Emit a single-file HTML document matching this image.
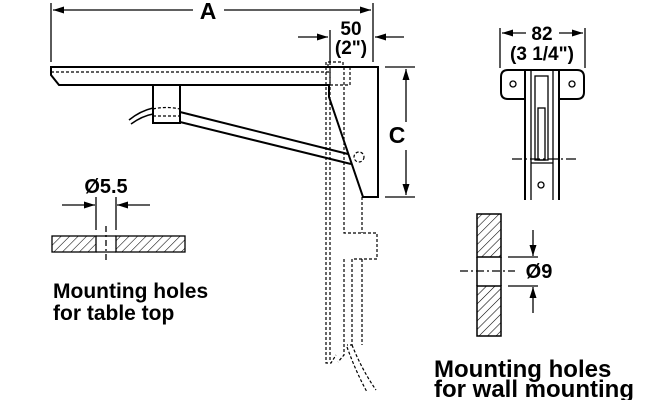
<!DOCTYPE html>
<html><head><meta charset="utf-8"><style>
html,body{margin:0;padding:0;background:#fff;}
svg{display:block;}
text{font-family:"Liberation Sans",Arial,sans-serif;font-weight:bold;fill:#000;}
</style></head><body>
<svg width="659" height="400" viewBox="0 0 659 400" xmlns="http://www.w3.org/2000/svg">
<defs>
<pattern id="h" width="6" height="6" patternUnits="userSpaceOnUse" patternTransform="rotate(45)">
<line x1="0" y1="0" x2="0" y2="6" stroke="#000" stroke-width="1.1"/>
</pattern>
<marker id="ar" markerWidth="11" markerHeight="7" refX="11" refY="3.5" orient="auto" markerUnits="userSpaceOnUse">
<path d="M0,0 L11,3.5 L0,7 z" fill="#000"/>
</marker>
</defs>
<g stroke="#000" fill="none" stroke-width="1.3">
<line x1="51" y1="3" x2="51" y2="62"/>
<line x1="373" y1="3" x2="373" y2="62"/>
<line x1="193" y1="10" x2="53" y2="10" marker-end="url(#ar)"/>
<line x1="224" y1="10" x2="371" y2="10" marker-end="url(#ar)"/>
<line x1="330" y1="30" x2="330" y2="62"/>
<line x1="298" y1="37" x2="328" y2="37" marker-end="url(#ar)"/>
<line x1="404" y1="37" x2="375" y2="37" marker-end="url(#ar)"/>
<line x1="385" y1="67" x2="415" y2="67"/>
<line x1="385" y1="197" x2="415" y2="197"/>
<line x1="406" y1="122" x2="406" y2="69" marker-end="url(#ar)"/>
<line x1="406" y1="150" x2="406" y2="195" marker-end="url(#ar)"/>
</g>
<g stroke="#000" fill="none" stroke-width="2">
<path d="M51,67 L378,67 L378,197 L363,197 L329,97 L329,85 L59,85 L51,75 Z"/>
<rect x="153" y="85" width="27" height="38"/>
<path d="M180,112 L348,154 M180,122 L351,164"/>
<path d="M129,120 Q140,111 153,108 M131,124 Q142,116 153,114" stroke-width="1.5"/>
</g>
<g stroke="#000" fill="none" stroke-width="1.2" stroke-dasharray="3,2">
<line x1="51" y1="72" x2="329" y2="72"/>
<path d="M153,109 Q166,106 180,109 M153,116 L180,116"/>
<circle cx="359" cy="157" r="5"/>
<path d="M328,67 L328,62 L343,62 L343,67"/>
<rect x="330" y="67" width="20" height="18"/>
<path d="M326,62 L326,363 L331,363 L336,355"/>
<path d="M330,62 L330,360"/>
<path d="M344,67 L344,233 L377,233 L377,259 L352,259 L352,345 L347,345"/>
<path d="M362,197 L362,233"/>
<path d="M344,259 L344,355 L338,362"/>
<path d="M362,259 L362,345"/>
<path d="M352,345 Q362,370 376,390 M347,347 Q356,372 367,392"/>
</g>
<g stroke="#000" stroke-width="1.3">
<line x1="96" y1="197" x2="96" y2="230"/>
<line x1="116" y1="197" x2="116" y2="230"/>
<line x1="62" y1="205" x2="95" y2="205" marker-end="url(#ar)"/>
<line x1="150" y1="205" x2="117" y2="205" marker-end="url(#ar)"/>
<rect x="52" y="236" width="44" height="16" fill="url(#h)"/>
<rect x="116" y="236" width="69" height="16" fill="url(#h)"/>
<line x1="96" y1="236" x2="116" y2="236"/>
<line x1="96" y1="252" x2="116" y2="252"/>
<line x1="106" y1="226" x2="106" y2="262" stroke-dasharray="6,3,2,3"/>
</g>
<g stroke="#000" fill="none" stroke-width="1.3">
<line x1="500" y1="28" x2="500" y2="68"/>
<line x1="585" y1="28" x2="585" y2="68"/>
<line x1="526" y1="33" x2="502" y2="33" marker-end="url(#ar)"/>
<line x1="559" y1="33" x2="583" y2="33" marker-end="url(#ar)"/>
</g>
<g stroke="#000" fill="none" stroke-width="2">
<path d="M525,99 L508,99 Q501,99 501,92 L501,77 Q501,70 508,70 L577,70 Q584,70 584,77 L584,92 Q584,99 577,99 L559,99"/>
<path d="M525,70 L525,200 M559,70 L559,200"/>
</g>
<g stroke="#000" fill="none" stroke-width="1.3">
<circle cx="513" cy="84" r="3"/>
<circle cx="572" cy="84" r="3"/>
<path d="M531,70 L531,200 M553,70 L553,200"/>
<rect x="535" y="76" width="13" height="84"/>
<rect x="538" y="108" width="7" height="52"/>
<path d="M531,163 L553,163"/>
<circle cx="541" cy="185" r="3"/>
<line x1="512" y1="159" x2="578" y2="159" stroke-dasharray="10,3,2,3"/>
</g>
<g stroke="#000" stroke-width="1.5">
<rect x="477" y="214" width="24" height="43" fill="url(#h)"/>
<rect x="477" y="286" width="24" height="50" fill="url(#h)"/>
<line x1="477" y1="257" x2="477" y2="286"/>
<line x1="501" y1="257" x2="501" y2="286"/>
</g>
<g stroke="#000" stroke-width="1.3">
<line x1="460" y1="271" x2="515" y2="271" stroke-dasharray="8,3,2,3"/>
<line x1="508" y1="257" x2="538" y2="257"/>
<line x1="508" y1="286" x2="538" y2="286"/>
<line x1="533" y1="230" x2="533" y2="256" marker-end="url(#ar)"/>
<line x1="533" y1="313" x2="533" y2="287" marker-end="url(#ar)"/>
</g>
<g>
<text x="208" y="19" text-anchor="middle" font-size="23">A</text>
<text x="351" y="35" text-anchor="middle" font-size="19">50</text>
<text x="351" y="54" text-anchor="middle" font-size="19">(2")</text>
<text x="397" y="143" text-anchor="middle" font-size="23">C</text>
<text x="106" y="193" text-anchor="middle" font-size="20">Ø5.5</text>
<text x="542" y="40" text-anchor="middle" font-size="19">82</text>
<text x="542" y="60" text-anchor="middle" font-size="19">(3 1/4")</text>
<text x="539" y="278" text-anchor="middle" font-size="20">Ø9</text>
<text x="53" y="298" font-size="21">Mounting holes</text>
<text x="53" y="320" font-size="21">for table top</text>
<text x="434" y="377" font-size="24">Mounting holes</text>
<text x="434" y="397" font-size="24">for wall mounting</text>
</g>
</svg>
</body></html>
